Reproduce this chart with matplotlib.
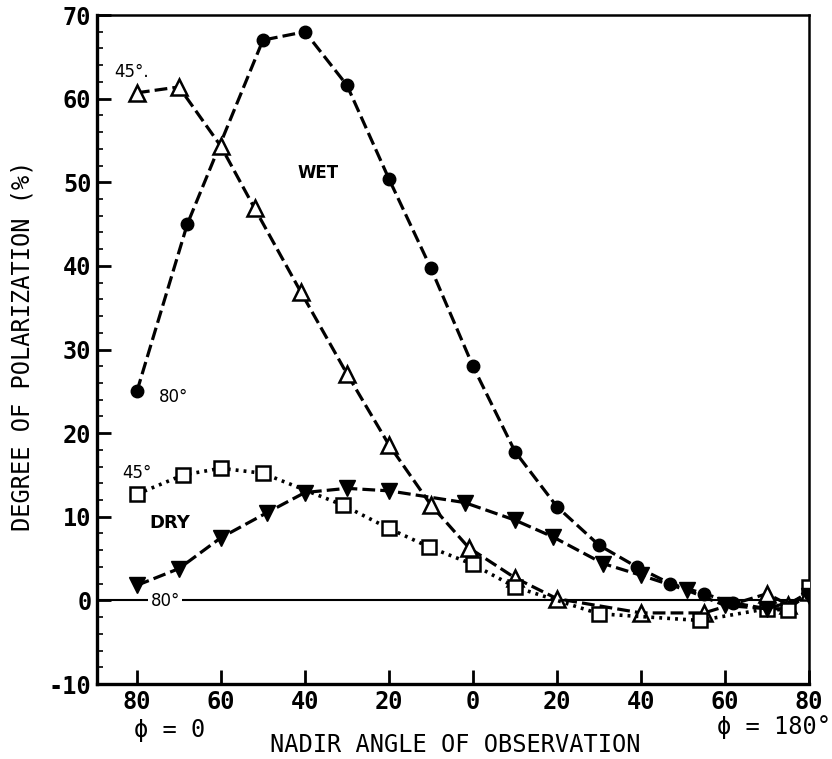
import matplotlib
matplotlib.use('Agg')
import matplotlib.pyplot as plt
from matplotlib.ticker import MultipleLocator

plt.rcParams['axes.unicode_minus'] = False

# nadir angle: left side (phi = 0) is negative, right side (phi = 180) positive
wet80_x = [-80, -68, -50, -40, -30, -20, -10, 0, 10, 20, 30, 39, 47, 55, 62, 70, 75, 80]
wet80_y = [25.0, 45.0, 67.0, 68.0, 61.6, 50.4, 39.7, 28.0, 17.8, 11.2, 6.6, 4.0, 2.0, 0.8, -0.3, -1.0, -1.0, 0.8]

wet45_x = [-80, -70, -60, -52, -41, -30, -20, -10, -1, 10, 20, 40, 55, 70, 75, 80]
wet45_y = [60.7, 61.4, 54.3, 46.9, 36.9, 27.1, 18.6, 11.4, 6.3, 2.7, 0.2, -1.5, -1.5, 0.8, -0.5, 1.0]

dry45_x = [-80, -69, -60, -50, -31, -20, -10.5, 0, 10, 30, 54, 70, 75, 80]
dry45_y = [12.7, 15.0, 15.8, 15.2, 11.4, 8.6, 6.4, 4.3, 1.6, -1.6, -2.4, -1.0, -1.2, 1.6]

dry80_x = [-80, -70, -60, -49, -40, -30, -20, -2, 10, 19, 31, 40, 51, 60, 70, 80]
dry80_y = [1.8, 3.8, 7.5, 10.5, 12.9, 13.4, 13.1, 11.7, 9.6, 7.6, 4.4, 3.0, 1.2, -0.6, -1.0, 0.5]

xtick_pos = [-80, -60, -40, -20, 0, 20, 40, 60, 80]
xtick_labels = ['80', '60', '40', '20', '0', '20', '40', '60', '80']
ytick_pos = [-10, 0, 10, 20, 30, 40, 50, 60, 70]

mono = 'DejaVu Sans Mono'

fig = plt.figure(figsize=(8.32, 7.59), dpi=100)
ax = fig.add_axes([0.1166, 0.0988, 0.8558, 0.8814])

ax.axhline(0, color='black', lw=1.5, zorder=1)

dash = (4, 1.6)
ax.plot(wet80_x, wet80_y, color='black', lw=2.3, dashes=dash, marker='o', ms=9,
        mfc='black', mec='black', zorder=3)
ax.plot(wet45_x, wet45_y, color='black', lw=2.3, dashes=dash, marker='^', ms=11,
        mfc='white', mec='black', mew=1.8, zorder=3)
ax.plot(dry45_x, dry45_y, color='black', lw=2.6, dashes=(0.8, 1.4), marker='s', ms=10,
        mfc='white', mec='black', mew=1.8, zorder=3)
ax.plot(dry80_x, dry80_y, color='black', lw=2.3, dashes=dash, marker='v', ms=11,
        mfc='black', mec='black', zorder=3)

# curve labels
ax.text(-36.9, 51.1, 'WET', fontsize=12, fontweight='bold', ha='center', va='center')
ax.text(-72.1, 9.2, 'DRY', fontsize=13, fontweight='bold', ha='center', va='center')
ax.text(-81.2, 63.2, '45°.', fontsize=12, ha='center', va='center')
ax.text(-71.2, 24.3, '80°', fontsize=12, ha='center', va='center')
ax.text(-80.0, 15.2, '45°', fontsize=12, ha='center', va='center')
ax.text(-73.3, -0.1, '80°', fontsize=12, ha='center', va='center', zorder=2,
        bbox=dict(facecolor='white', edgecolor='none', pad=1.5))

ax.set_xlim(-89.5, 80)
ax.set_ylim(-10, 70)
ax.set_xticks(xtick_pos)
ax.set_xticklabels(xtick_labels)
ax.set_yticks(ytick_pos)
ax.yaxis.set_minor_locator(MultipleLocator(2))

ax.tick_params(axis='both', which='major', direction='in', length=10, width=2,
               labelsize=17, pad=4)
ax.tick_params(axis='y', which='minor', direction='in', length=4, width=1.2)
ax.tick_params(top=False, right=False)
for lab in ax.get_xticklabels() + ax.get_yticklabels():
    lab.set_fontfamily(mono)
    lab.set_fontweight('bold')

for side in ['left', 'bottom']:
    ax.spines[side].set_linewidth(2.4)
for side in ['top', 'right']:
    ax.spines[side].set_linewidth(1.8)

fig.text(23 / 832, 1 - 346 / 759, 'DEGREE OF POLARIZATION (%)', rotation=90,
         ha='center', va='center', fontsize=17, family=mono)
fig.text(455 / 832, 1 - 745 / 759, 'NADIR ANGLE OF OBSERVATION',
         ha='center', va='center', fontsize=17, family=mono)
fig.text(170 / 832, 1 - 730 / 759, 'ϕ = 0', ha='center', va='center',
         fontsize=17, family=mono)
fig.text(774 / 832, 1 - 727 / 759, 'ϕ = 180°', ha='center', va='center',
         fontsize=17, family=mono)

fig.savefig('out.png', dpi=100)
